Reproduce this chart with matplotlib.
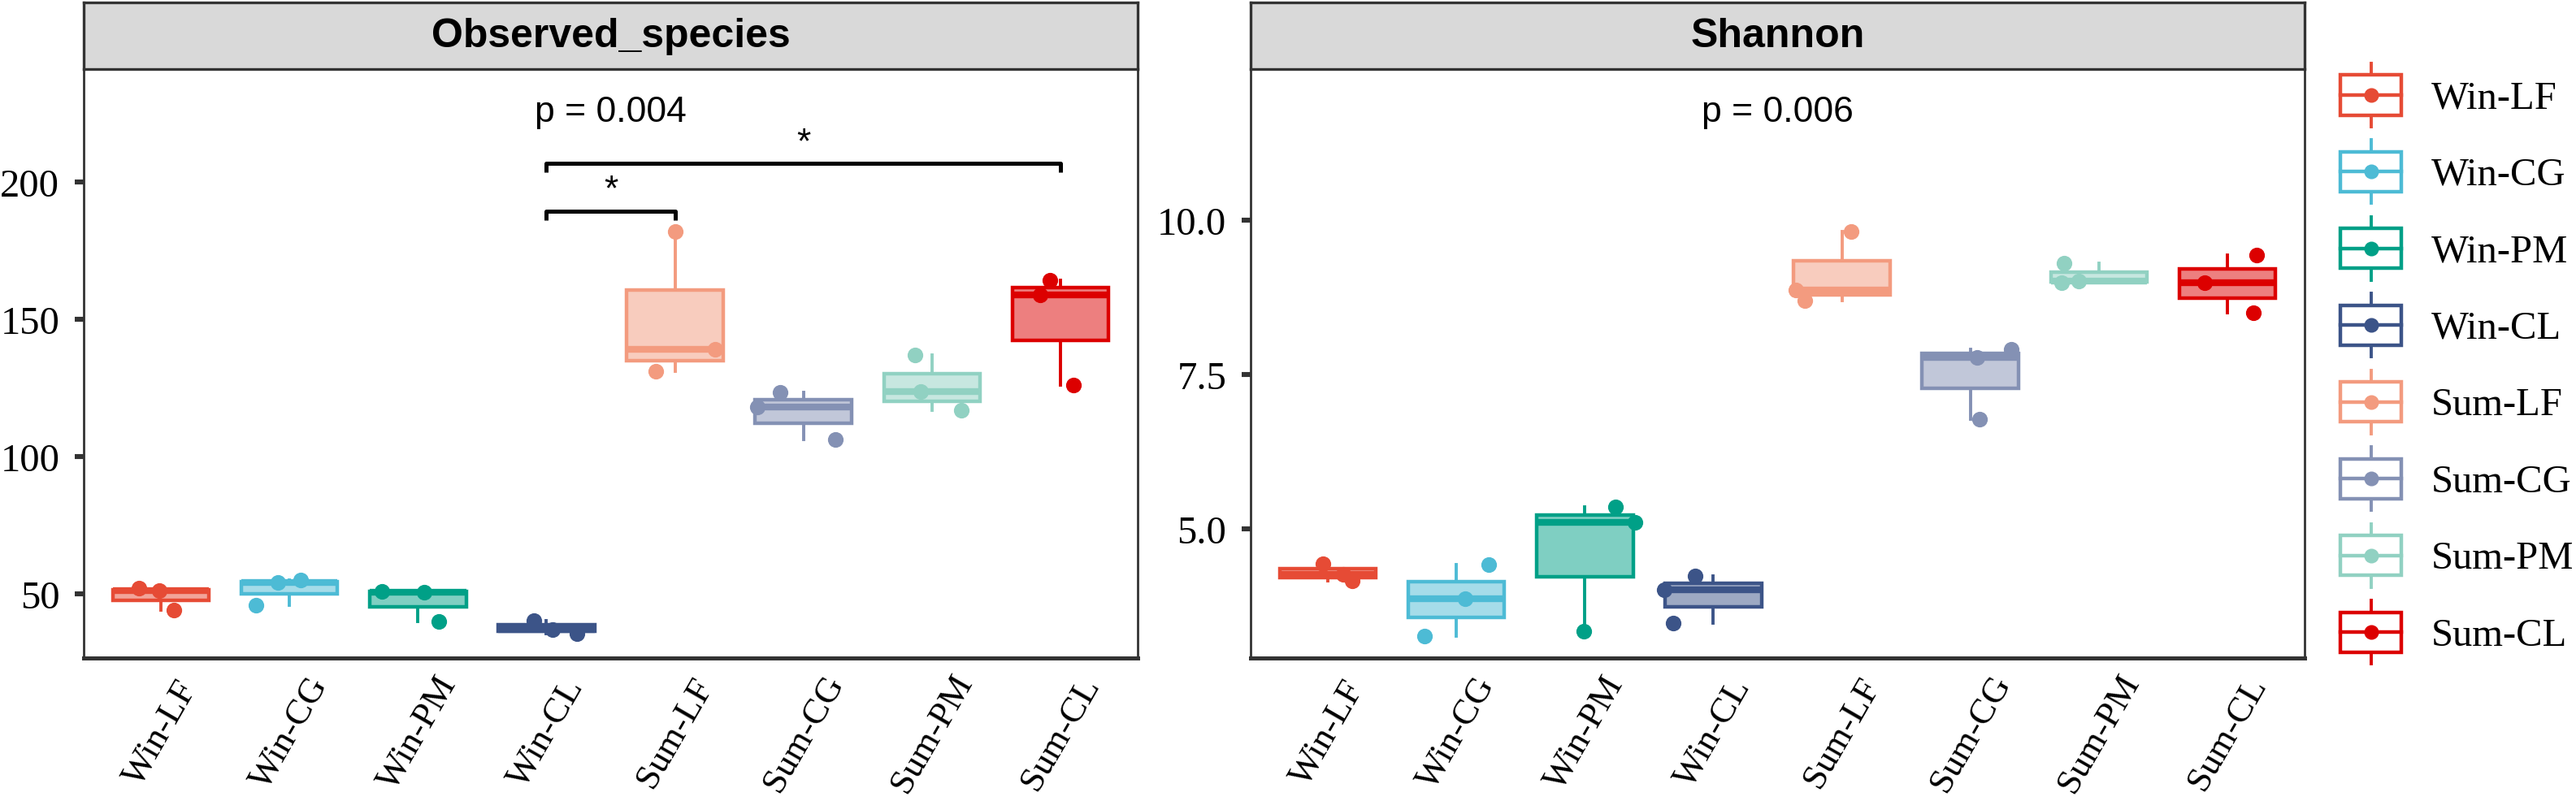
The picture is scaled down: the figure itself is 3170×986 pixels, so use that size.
import matplotlib
matplotlib.use("Agg")
import matplotlib.pyplot as plt
import numpy as np
from matplotlib.legend_handler import HandlerBase
from matplotlib.lines import Line2D
from matplotlib.patches import Rectangle
from matplotlib.transforms import ScaledTranslation

# groupes et couleurs (palette npg)
groups = ['Win-LF', 'Win-CG', 'Win-PM', 'Win-CL', 'Sum-LF', 'Sum-CG', 'Sum-PM', 'Sum-CL']
colors = ['#E64B35', '#4DBBD5', '#00A087', '#3C5488', '#F39B7F', '#8491B4', '#91D1C2', '#DC0000']

# valeurs (3 echantillons par groupe)
observed_species = [
    [52.1, 51.1, 44.0],
    [54.0, 55.0, 45.9],
    [51.0, 50.5, 40.0],
    [40.2, 37.0, 35.5],
    [182.0, 139.0, 131.0],
    [123.2, 118.1, 106.1],
    [137.0, 123.5, 116.9],
    [164.2, 158.8, 126.0],
]
shannon = [
    [4.44, 4.27, 4.16],
    [4.42, 3.87, 3.26],
    [5.35, 5.11, 3.34],
    [4.24, 4.01, 3.47],
    [9.81, 8.87, 8.70],
    [7.78, 7.90, 6.78],
    [9.30, 8.98, 9.01],
    [9.43, 8.98, 8.49],
]
p_values = ['p = 0.004', 'p = 0.006']
# comparaisons significatives (groupe a, groupe b, label)
obs_comparisons = [('Win-CL', 'Sum-LF', '*'), ('Win-CL', 'Sum-CL', '*')]

# decalage horizontal des points (jitter)
obs_jitter = [[-0.17, -0.01, 0.10], [-0.09, 0.09, -0.26], [-0.28, 0.05, 0.16], [-0.10, 0.05, 0.24],
              [0.00, 0.31, -0.15], [-0.18, -0.36, 0.25], [-0.13, -0.09, 0.23], [-0.08, -0.16, 0.10]]
sha_jitter = [[-0.04, 0.12, 0.19], [0.25, 0.07, -0.25], [0.24, 0.39, -0.01], [-0.14, -0.38, -0.31],
              [0.07, -0.36, -0.29], [0.05, 0.32, 0.07], [-0.27, -0.29, -0.16], [0.23, -0.18, 0.20]]

SERIF = 'Liberation Serif'
SANS = 'Liberation Sans'
EDGE = '#333333'

W, H, DPI = 3170, 987, 200
fig = plt.figure(figsize=(W / DPI, H / DPI), dpi=DPI)


def panel(x0, x1, title, data, jitter, ylim, yticks, yfmt, ptext, ptext_y):
    y0, y1 = 1 - 811 / H, 1 - 86 / H
    ax = fig.add_axes([x0 / W, y0, (x1 - x0) / W, y1 - y0])
    pos = np.arange(1, len(groups) + 1)
    bp = ax.boxplot(data, positions=pos, widths=0.75, whis=(0, 100), patch_artist=True,
                    showfliers=False, showcaps=False, zorder=2)
    for i, c in enumerate(colors):
        bp['boxes'][i].set(facecolor=matplotlib.colors.to_rgba(c, 0.5), edgecolor=c, linewidth=1.6)
        bp['medians'][i].set(color=c, linewidth=3.0, solid_capstyle='butt')
        for w in bp['whiskers'][2 * i:2 * i + 2]:
            w.set(color=c, linewidth=1.4)
        ax.scatter(pos[i] + np.array(jitter[i]), data[i], s=48, color=c, zorder=3, linewidths=0)
    ax.set_xlim(0.4, 8.6)
    ax.set_ylim(*ylim)
    ax.set_yticks(yticks)
    ax.set_yticklabels([yfmt.format(v) for v in yticks], fontfamily=SERIF, fontsize=17.5)
    ax.set_xticks(pos)
    ax.set_xticklabels(groups, rotation=60, ha='center', va='center', rotation_mode='anchor',
                       fontfamily=SERIF, fontsize=16)
    shift = ScaledTranslation(-9 / DPI, 0, fig.dpi_scale_trans)
    for lab in ax.get_xticklabels():
        lab.set_transform(lab.get_transform() + shift)
    ax.tick_params(axis='y', length=4, width=2.2, color=EDGE, pad=6.7)
    ax.tick_params(axis='x', length=0, pad=33)
    for s in ax.spines.values():
        s.set_color(EDGE)
        s.set_linewidth(1.0)
    ax.spines['bottom'].set_linewidth(1.8)
    ax.text(4.5, ptext_y, ptext, ha='center', va='center', fontfamily=SANS, fontsize=16)
    # bandeau du titre
    st = fig.add_axes([x0 / W, y1, (x1 - x0) / W, 1 - 4 / H - y1])
    st.set_facecolor('#D9D9D9')
    st.set_xticks([])
    st.set_yticks([])
    for s in st.spines.values():
        s.set_color(EDGE)
        s.set_linewidth(1.2)
    st.text(0.5, 0.5, title, ha='center', va='center', fontfamily=SANS, fontsize=18,
            fontweight='bold', transform=st.transAxes)
    return ax


ax1 = panel(103, 1400, 'Observed_species', observed_species, obs_jitter, (26.6, 241.1),
            [50, 100, 150, 200], '{:.0f}', p_values[0], 225.5)
ax2 = panel(1539, 2836, 'Shannon', shannon, sha_jitter, (2.91, 12.44),
            [5.0, 7.5, 10.0], '{:.1f}', p_values[1], 11.75)

# crochets de significativite
levels = [189.4, 206.8]
for (a, b, lab), yl in zip(obs_comparisons, levels):
    xa, xb = groups.index(a) + 1, groups.index(b) + 1
    ax1.plot([xa, xa, xb, xb], [yl - 3.2, yl, yl, yl - 3.2], color='black', lw=1.8,
             solid_capstyle='butt', zorder=4)
    ax1.text((xa + xb) / 2, yl + 1.5, lab, ha='center', va='bottom', fontfamily=SANS,
             fontsize=16)


class BoxHandler(HandlerBase):
    def create_artists(self, legend, orig_handle, xdescent, ydescent, width, height,
                       fontsize, trans):
        c = orig_handle.get_color()
        x0, y0 = -xdescent, -ydescent
        cx = x0 + width / 2
        bh = height * 0.63
        by = y0 + (height - bh) / 2
        box = Rectangle((x0, by), width, bh, facecolor='white', edgecolor=c, lw=1.6,
                        transform=trans)
        wl = Line2D([cx, cx], [y0, by], color=c, lw=1.4, transform=trans)
        wh = Line2D([cx, cx], [by + bh, y0 + height], color=c, lw=1.4, transform=trans)
        med = Line2D([x0, x0 + width], [by + bh / 2] * 2, color=c, lw=1.6, transform=trans)
        dot = Line2D([cx], [by + bh / 2], marker='o', ms=6.5, color=c, mew=0, transform=trans)
        return [wl, wh, box, med, dot]


handles = [Line2D([], [], color=c) for c in colors]
fig.legend(handles, groups, handler_map={Line2D: BoxHandler()}, loc='upper left',
           bbox_to_anchor=(2880 / W, 1 - 79 / H), frameon=False, borderpad=0,
           borderaxespad=0, handlelength=1.55, handleheight=2.09, labelspacing=0.34,
           handletextpad=0.75, prop={'family': SERIF, 'size': 17.5})

fig.savefig('out.png', dpi=DPI, facecolor='white')
